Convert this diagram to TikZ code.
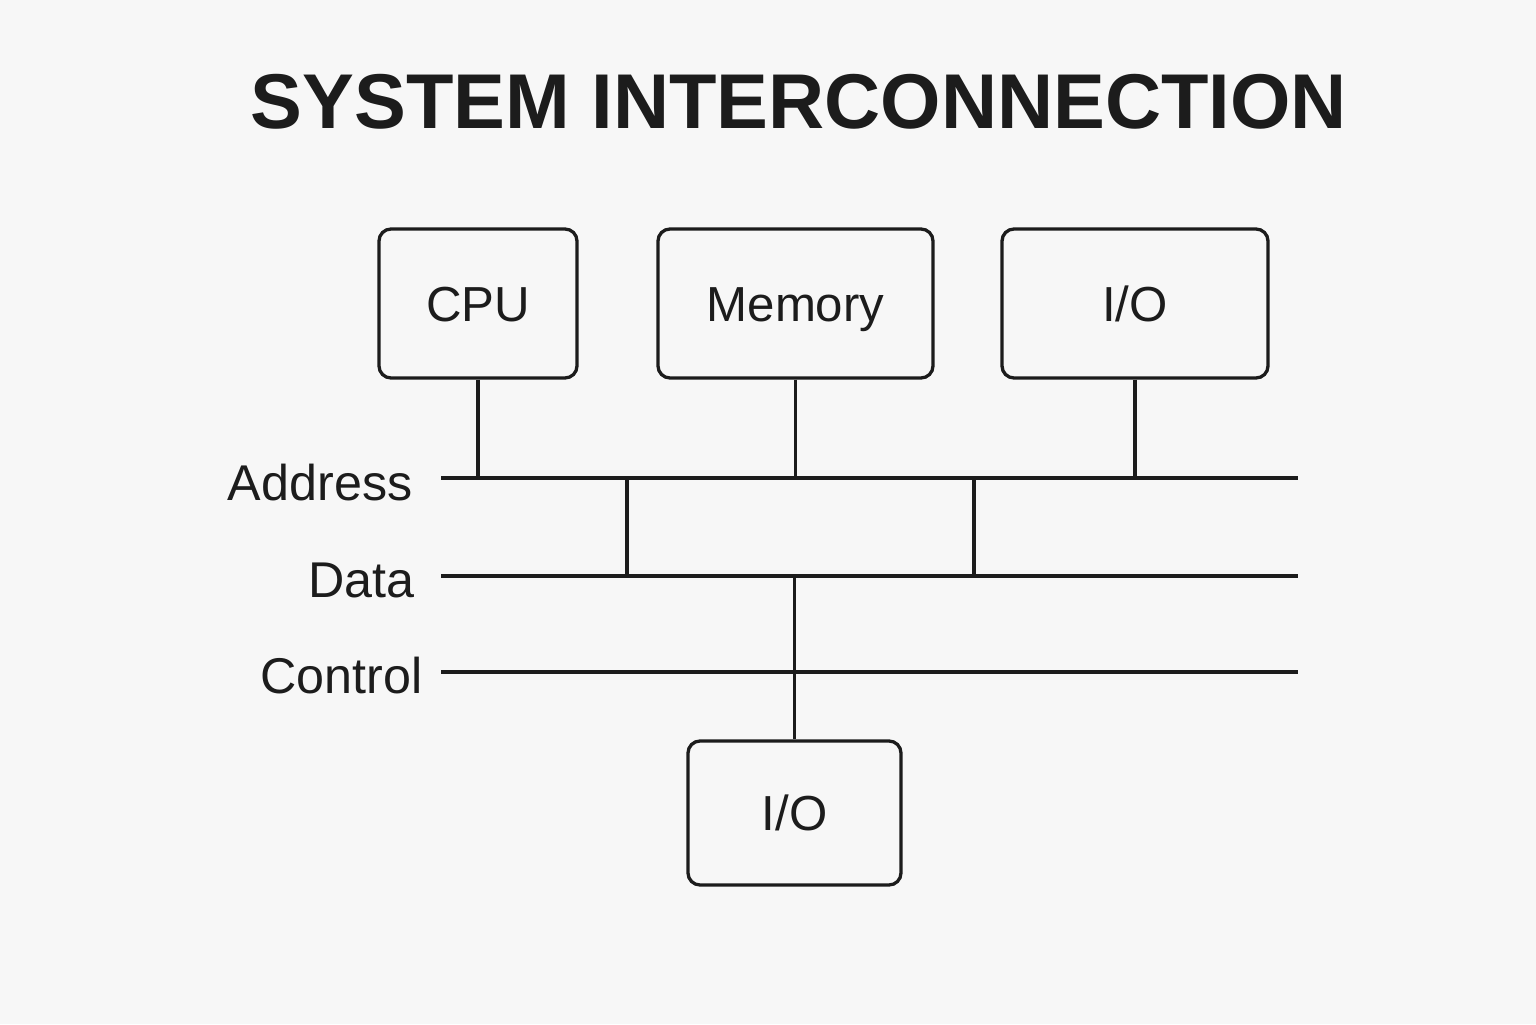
\documentclass[tikz,border=0pt]{standalone}
\usepackage{fontspec}
\setmainfont{Liberation Sans}
\usetikzlibrary{positioning}
\definecolor{ink}{HTML}{1C1C1C}
\definecolor{paper}{HTML}{F7F7F7}
\tikzset{
  unit/.style = {draw = ink, line width = 0.033cm, rounded corners = 0.12cm,
    inner sep = 0pt, minimum height = 1.49cm, text height = 10pt, text depth = 0pt,
    font = \fontsize{14}{16}\selectfont, text = ink},
  busname/.style = {anchor = base east, inner sep = 0pt, font = \fontsize{14.3}{16}\selectfont, text = ink},
  wire/.style = {draw = ink, line width = 0.033cm}
}
\begin{document}
\begin{tikzpicture}
    \fill[paper] (0, 0) rectangle (15.36, 10.24);
    \useasboundingbox (0, 0) rectangle (15.36, 10.24);

    \node[font = \bfseries\fontsize{22.1}{26}\selectfont, text = ink] (title) at (7.99, 9.22) {SYSTEM INTERCONNECTION};

    \node[unit, minimum width = 1.98cm] (cpu) at (4.78, 7.205) {CPU};
    \node[unit, minimum width = 2.75cm] (mem) at (7.955, 7.205) {Memory};
    \node[unit, minimum width = 2.66cm] (io1) at (11.35, 7.205) {I/O};
    \node[unit, minimum width = 2.13cm, minimum height = 1.44cm] (io2) at (7.945, 2.11) {I/O};

    \coordinate (A1) at (4.41, 5.46);
    \coordinate (A2) at (12.98, 5.46);
    \coordinate (D1) at (4.41, 4.48);
    \coordinate (D2) at (12.98, 4.48);
    \coordinate (C1) at (4.41, 3.52);
    \coordinate (C2) at (12.98, 3.52);

    \node[busname] (addr) at (4.13, 5.24) {Address};
    \node[busname] (data) at (4.15, 4.27) {Data};
    \node[busname] (ctrl) at (4.23, 3.31) {Control};

    \draw[wire] (A1) -- (A2);
    \draw[wire] (D1) -- (D2);
    \draw[wire] (C1) -- (C2);

    \draw[wire] (cpu.south) -- (cpu.south |- A1);
    \draw[wire] (mem.south) -- (mem.south |- A1);
    \draw[wire] (io1.south) -- (io1.south |- A1);

    \coordinate (L1) at (6.27, 5.46);
    \coordinate (L2) at (9.74, 5.46);
    \draw[wire] (L1) -- (L1 |- D1);
    \draw[wire] (L2) -- (L2 |- D1);

    \draw[wire] (io2.north) -- (io2.north |- D1);
  \end{tikzpicture}
\end{document}
